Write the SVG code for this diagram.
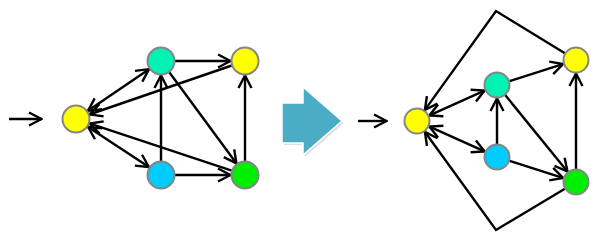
<svg xmlns="http://www.w3.org/2000/svg" width="600" height="250" viewBox="0 0 600 250">
<defs>
<marker id="ah" viewBox="0 0 16 16" refX="15" refY="8" markerWidth="16" markerHeight="16" markerUnits="userSpaceOnUse" orient="auto-start-reverse">
<path d="M2,1.5 L14.5,8 L2,14.5" fill="none" stroke="#000" stroke-width="2.4" stroke-linejoin="miter"/>
</marker>
</defs>
<style>
.e{fill:none;stroke:#000;stroke-width:2.4;marker-end:url(#ah)}
.b{marker-start:url(#ah)}
.n{stroke:#858585;stroke-width:2}
.y{fill:#ffff00}
.t{fill:#00f2b4}
.c{fill:#00ccff}
.g{fill:#00ee00}
</style>
<rect width="600" height="250" fill="#fff"/>
<g id="connectors">
<line class="e" x1="9" y1="119" x2="42" y2="119"/>
<line class="e b" x1="87.6" y1="111.1" x2="149.4" y2="68.9"/>
<line class="e b" x1="87.7" y1="126.7" x2="149.3" y2="167.3"/>
<line class="e" x1="175" y1="61" x2="231" y2="61"/>
<line class="e" x1="231.8" y1="65.5" x2="89.2" y2="114.5"/>
<line class="e" x1="161" y1="161" x2="161" y2="75"/>
<line class="e" x1="169.3" y1="72.3" x2="236.7" y2="163.7"/>
<line class="e" x1="175" y1="175" x2="231" y2="175"/>
<line class="e" x1="245" y1="161" x2="245" y2="75"/>
<line class="e" x1="231.7" y1="170.6" x2="89.3" y2="123.4"/>
<line class="e" x1="358" y1="121" x2="387" y2="121"/>
<line class="e b" x1="428.9" y1="115.7" x2="485.1" y2="90.3"/>
<line class="e b" x1="428.9" y1="126.3" x2="485.1" y2="151.7"/>
<line class="e" x1="509.4" y1="81.1" x2="563.6" y2="63.9"/>
<line class="e" x1="497" y1="144" x2="497" y2="98"/>
<line class="e" x1="505.2" y1="95.1" x2="567.8" y2="171.9"/>
<line class="e" x1="509.4" y1="160.9" x2="563.6" y2="178.1"/>
<line class="e" x1="576" y1="169" x2="576" y2="73"/>
<polyline class="e" points="564.9,53.2 496,11 424.6,110.4"/>
<polyline class="e" points="564.9,188.7 496,230 424.6,131.5"/>
</g>
<g id="bigArrow">
<polygon points="284,105 305,105 305,89 344,123 305,157 305,145 284,145" fill="#000" opacity="0.12"/>
<polygon points="282,103 303,103 303,87 342,121 303,155 303,143 282,143" fill="#4bacc6" stroke="#fff" stroke-width="1.5"/>
</g>
<g id="nodeL1"><circle class="n y" cx="76" cy="119" r="13.5"/></g>
<g id="nodeT1"><circle class="n t" cx="161" cy="61" r="13.5"/></g>
<g id="nodeY1"><circle class="n y" cx="245" cy="61" r="13.5"/></g>
<g id="nodeB1"><circle class="n c" cx="161" cy="175" r="13.5"/></g>
<g id="nodeG1"><circle class="n g" cx="245" cy="175" r="13.5"/></g>
<g id="nodeL2"><circle class="n y" cx="417" cy="121" r="12.5"/></g>
<g id="nodeT2"><circle class="n t" cx="497" cy="85" r="12.5"/></g>
<g id="nodeY2"><circle class="n y" cx="576" cy="60" r="12.5"/></g>
<g id="nodeB2"><circle class="n c" cx="497" cy="157" r="12.5"/></g>
<g id="nodeG2"><circle class="n g" cx="576" cy="182" r="12.5"/></g>
</svg>
